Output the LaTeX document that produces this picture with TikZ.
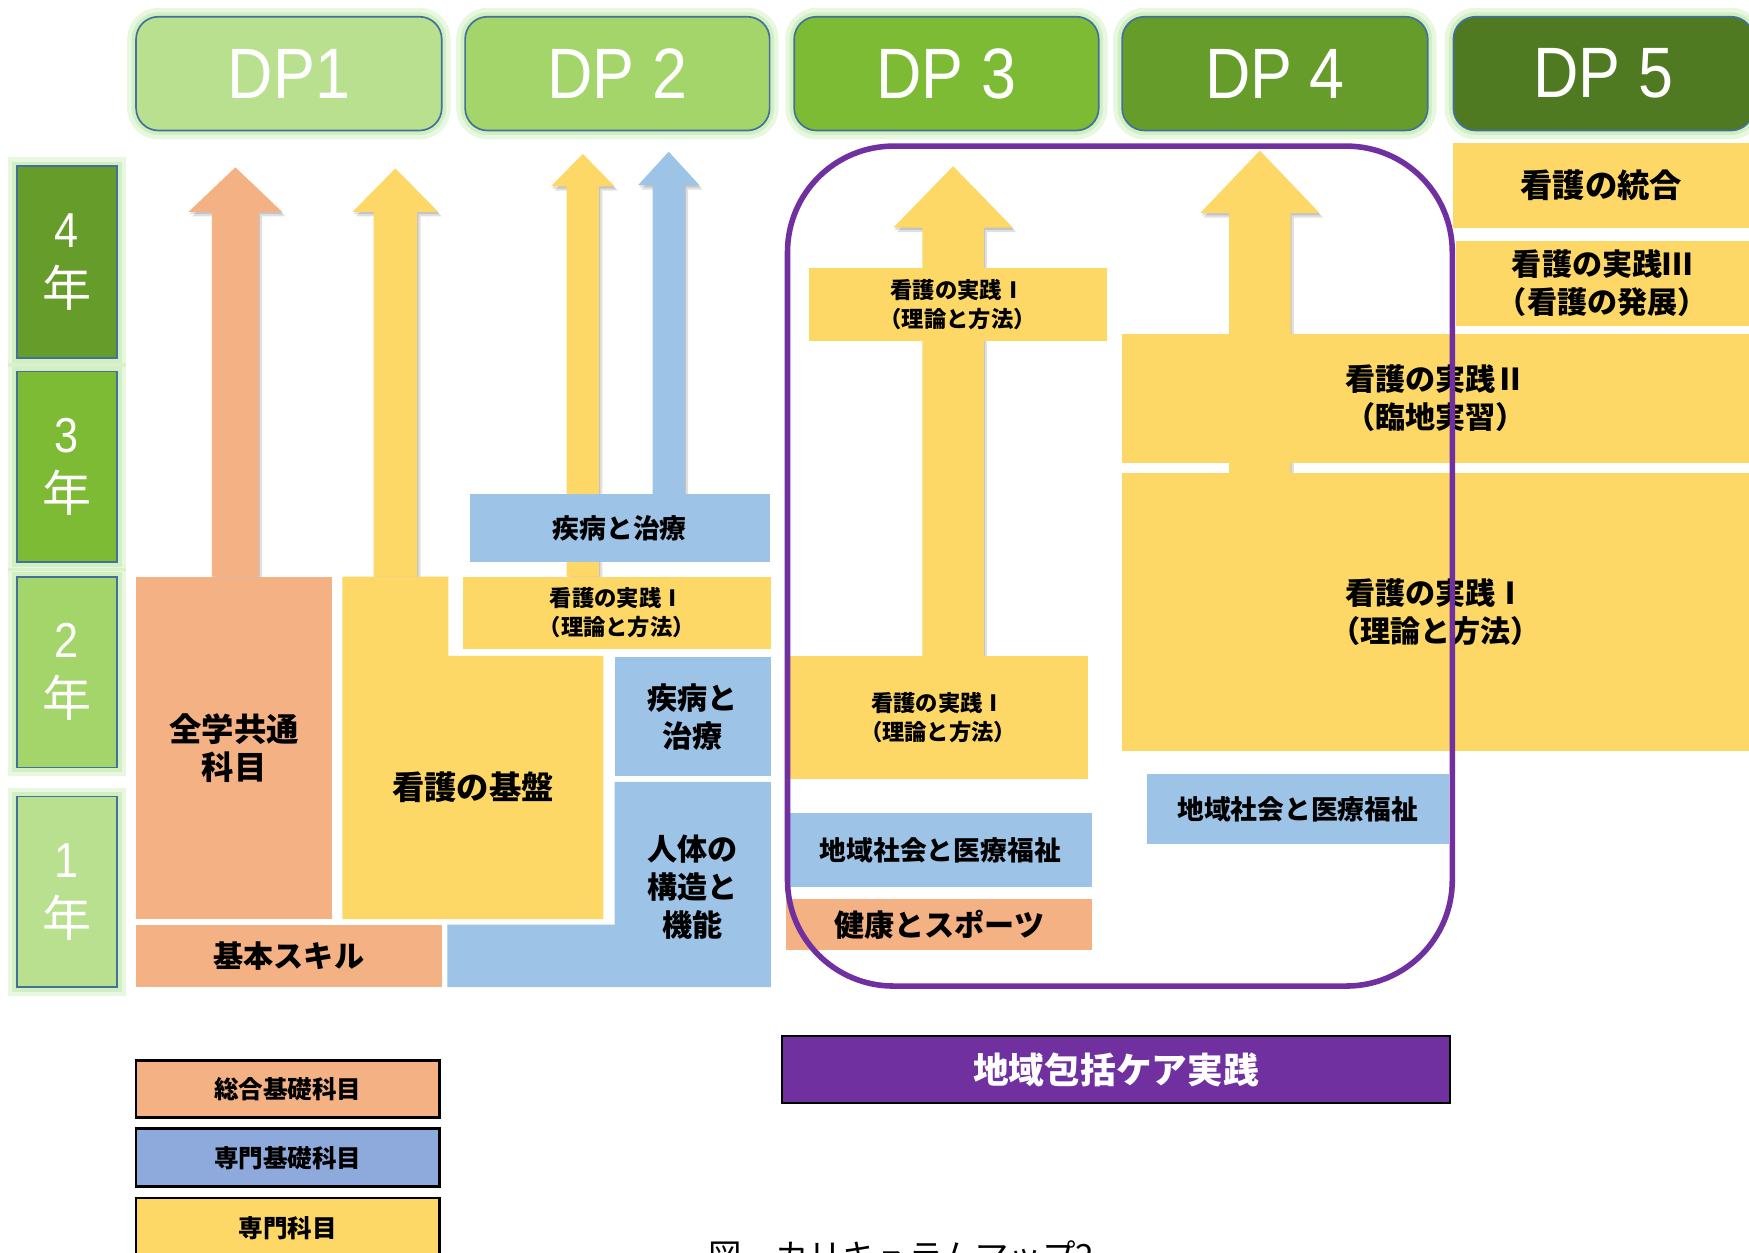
\documentclass[tikz,border=0pt]{standalone}
\usepackage{fontspec}
\setmainfont{Liberation Sans}
\newfontfamily\jp{Noto Sans CJK JP}
\newfontfamily\dpf[FakeStretch=0.88]{Liberation Sans}
\definecolor{cOr}{HTML}{F4B183}
\definecolor{cYe}{HTML}{FDD866}
\definecolor{cBl}{HTML}{9DC3E6}
\definecolor{cLb}{HTML}{8EA9DB}
\definecolor{cPu}{HTML}{7030A0}
\definecolor{gA}{HTML}{B9E08F}
\definecolor{gB}{HTML}{A3D56A}
\definecolor{gC}{HTML}{7CBB33}
\definecolor{gD}{HTML}{669C2A}
\definecolor{gE}{HTML}{507A21}
\definecolor{bd}{HTML}{41719C}
\definecolor{glow}{HTML}{B5E69A}
\tikzset{
  cbox/.style={inner sep=0pt, outer sep=0pt, align=center, text=black, font=\jp\bfseries\fontsize{27}{34}\selectfont},
  fsmall/.style={font=\jp\bfseries\fontsize{20}{26}\selectfont},
  fmid/.style={font=\jp\bfseries\fontsize{24}{30}\selectfont},
  fbig/.style={font=\jp\bfseries\fontsize{29}{34}\selectfont},
  glowed/.style={preaction={draw=glow, line width=16pt, opacity=0.3}, preaction={draw=glow, line width=8pt, opacity=0.45}},
  dpbox/.style={inner sep=0pt, outer sep=0pt, glowed, rounded corners=20pt, draw=bd, line width=1.5pt, text=white, font=\dpf\fontsize{64}{70}\selectfont},
  yrbox/.style={inner sep=0pt, outer sep=0pt, glowed, draw=bd, line width=1.5pt, text=white, align=center, font=\fontsize{44}{53}\selectfont},
  lgbox/.style={inner sep=0pt, outer sep=0pt, draw=black, line width=2.5pt, align=center, text=black, font=\jp\bfseries\fontsize{22}{26}\selectfont},
}
% \rbox{style}{x1}{y1}{x2}{y2}{name}{text}
\newcommand\rbox[7]{\node[#1, minimum width={(#4-#2)*1pt}, minimum height={(#5-#3)*1pt}] (#6) at ({(#2+#4)/2},{(#3+#5)/2}) {#7};}
\newcommand\blkarrow[7]{%
  \fill[black, opacity=0.12, xshift=3pt, yshift=-4pt] (#2,#5) -- (#2,#6) -- ({#2-#4},#6) -- ({(#2+#3)/2},#7) -- ({#3+#4},#6) -- (#3,#6) -- (#3,#5) -- cycle;
  \fill[black, opacity=0.12, xshift=1pt, yshift=-2pt] (#2,#5) -- (#2,#6) -- ({#2-#4},#6) -- ({(#2+#3)/2},#7) -- ({#3+#4},#6) -- (#3,#6) -- (#3,#5) -- cycle;
  \fill[#1] (#2,#5) -- (#2,#6) -- ({#2-#4},#6) -- ({(#2+#3)/2},#7) -- ({#3+#4},#6) -- (#3,#6) -- (#3,#5) -- cycle;}
\begin{document}
\begin{tikzpicture}[x=1pt,y=-1pt]
\useasboundingbox (0,0) rectangle (1568,1123);
\fill[white] (0,0) rectangle (1568,1123);

% DP headers
\rbox{dpbox, fill=gA}{122}{15}{396}{117}{dp1}{DP1}
\rbox{dpbox, fill=gB}{417}{15}{690}{117}{dp2}{DP 2}
\rbox{dpbox, fill=gC}{712}{15}{985}{117}{dp3}{DP 3}
\rbox{dpbox, fill=gD}{1006}{15}{1280}{117}{dp4}{DP 4}
\rbox{dpbox, fill=gE}{1303}{15}{1572}{117}{dp5}{DP 5}

% year boxes
\rbox{yrbox, fill=gD}{15}{149}{105}{321}{y4}{{\dpf 4}\\{\jp 年}}
\rbox{yrbox, fill=gC}{15}{333}{105}{504}{y3}{{\dpf 3}\\{\jp 年}}
\rbox{yrbox, fill=gB}{15}{517}{105}{688}{y2}{{\dpf 2}\\{\jp 年}}
\rbox{yrbox, fill=gA}{15}{714}{105}{885}{y1}{{\dpf 1}\\{\jp 年}}

% arrows
\blkarrow{cOr}{190}{232}{21}{517}{190}{150}
\blkarrow{cYe}{335}{374}{19}{517}{190}{151}
\blkarrow{cYe}{508}{537}{14}{517}{167}{138}
\blkarrow{cBl}{585}{614}{13}{443}{166}{136}
\blkarrow{cYe}{827}{882}{26}{588}{204}{149}
\blkarrow{cYe}{1102}{1157}{26}{424}{191}{135}

% left area boxes
\rbox{cbox, fbig, fill=cOr}{122}{517}{298}{824}{zengaku}{全学共通\\科目}
\fill[cYe] (307,517) -- (402,517) -- (402,588) -- (541,588) -- (541,824) -- (307,824) -- cycle;
\node[cbox, fbig] (kiban) at (424,706) {看護の基盤};
\rbox{cbox, fsmall, fill=cYe}{415}{517}{691}{582}{jissen2}{看護の実践Ⅰ\\（理論と方法）}
\rbox{cbox, fmid, fill=cBl}{421}{443}{690}{504}{shippei1}{疾病と治療}
\rbox{cbox, fill=cBl}{551}{589}{691}{696}{shippei2}{疾病と\\治療}
\fill[cBl] (551,701) -- (691,701) -- (691,885) -- (401,885) -- (401,829) -- (551,829) -- cycle;
\node[cbox] (jintai) at (621,795) {人体の\\構造と\\機能};
\rbox{cbox, fill=cOr}{122}{829}{396}{885}{kihon}{基本スキル}

% DP3 area
\rbox{cbox, fsmall, fill=cYe}{725}{240}{992}{306}{jissen3a}{看護の実践Ⅰ\\（理論と方法）}
\rbox{cbox, fsmall, fill=cYe}{707}{588}{975}{698}{jissen3b}{看護の実践Ⅰ\\（理論と方法）}
\rbox{cbox, fmid, fill=cBl}{707}{729}{979}{795}{chiiki3}{地域社会と医療福祉}
\rbox{cbox, fill=cOr}{705}{806}{979}{852}{kenko}{健康とスポーツ}

% DP4 area
\rbox{cbox, fill=cYe}{1006}{299}{1568}{415}{jissen4b}{看護の実践Ⅱ\\（臨地実習）}
\rbox{cbox, fill=cYe}{1006}{424}{1568}{673}{jissen4a}{看護の実践Ⅰ\\（理論と方法）}
\rbox{cbox, fmid, fill=cBl}{1028}{694}{1299}{757}{chiiki4}{地域社会と医療福祉}

% DP5 area
\rbox{cbox, fbig, fill=cYe}{1303}{128}{1568}{204}{tougou}{看護の統合}
\rbox{cbox, fill=cYe}{1305}{216}{1568}{292}{jissen5}{看護の実践Ⅲ\\（看護の発展）}

% community care region
\rbox{inner sep=0pt, outer sep=0pt, draw=cPu, line width=5pt, rounded corners=95pt}{706}{131}{1302}{884}{region}{}

% legend
\rbox{lgbox, fill=cOr}{122}{951}{394}{1002}{lg1}{総合基礎科目}
\rbox{lgbox, fill=cLb}{122}{1012}{394}{1064}{lg2}{専門基礎科目}
\node[lgbox, fill=cYe, minimum width=272pt, minimum height=54pt, anchor=north] (lg3) at (258,1074) {\raisebox{0pt}{専門科目}};

\rbox{inner sep=0pt, outer sep=0pt, fill=cPu, draw=black, line width=2pt, text=white, font=\jp\bfseries\fontsize{32}{36}\selectfont}{701}{929}{1300}{989}{care}{地域包括ケア実践}

\node[anchor=north, inner sep=0pt, font=\jp\fontsize{30}{34}\selectfont] (caption) at (808,1112) {図　カリキュラムマップ2};
\end{tikzpicture}
\end{document}
